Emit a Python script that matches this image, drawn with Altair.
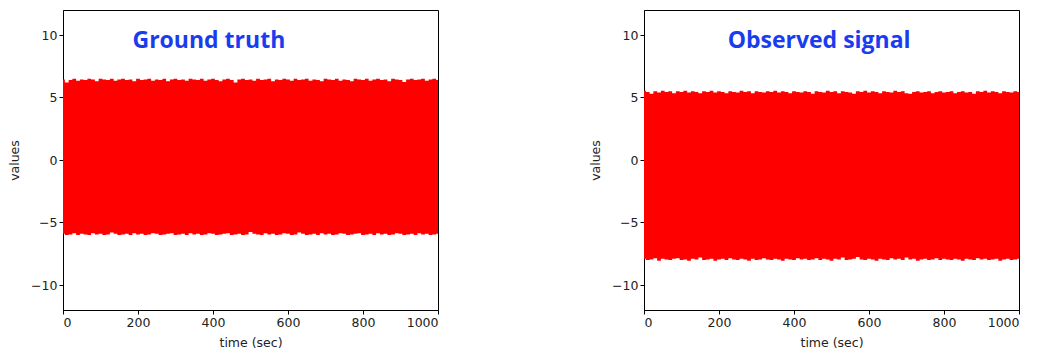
import altair as alt
import pandas as pd

time_sec = list(range(0, 1001, 10))

gt_upper = [6.45, 6.2, 6.4, 6.5, 6.35, 6.45, 6.4, 6.5, 6.45, 6.3, 6.5, 6.45, 6.4, 6.5, 6.35, 6.45, 6.5, 6.4, 6.45, 6.3,
            6.5, 6.4, 6.45, 6.5, 6.35, 6.45, 6.4, 6.5, 6.3, 6.45, 6.5, 6.4, 6.45, 6.35, 6.5, 6.45, 6.4, 6.5, 6.35, 6.45,
            6.5, 6.4, 6.3, 6.45, 6.5, 6.4, 6.2, 6.45, 6.5, 6.4, 6.45, 6.35, 6.5, 6.4, 6.45, 6.5, 6.3, 6.45, 6.4, 6.5,
            6.45, 6.35, 6.5, 6.4, 6.45, 6.5, 6.35, 6.45, 6.4, 6.3, 6.5, 6.45, 6.4, 6.5, 6.35, 6.45, 6.4, 6.3, 6.5, 6.45,
            6.4, 6.5, 6.35, 6.45, 6.5, 6.4, 6.45, 6.3, 6.5, 6.45, 6.4, 6.25, 6.45, 6.5, 6.4, 6.45, 6.5, 6.35, 6.45, 6.5,
            6.4]
gt_lower = [-5.9, -6.0, -5.95, -5.85, -6.0, -5.9, -5.95, -6.0, -5.85, -5.95, -5.9, -6.0, -5.95, -5.8, -5.9, -6.0, -5.95, -5.9, -6.0, -5.85,
            -5.95, -5.9, -6.0, -5.95, -5.85, -5.9, -6.0, -5.95, -5.9, -5.85, -6.0, -5.95, -5.9, -6.0, -5.85, -5.95, -5.9, -6.0, -5.95, -5.85,
            -5.9, -6.0, -5.95, -5.9, -5.85, -6.0, -5.95, -5.9, -6.0, -5.95, -5.75, -5.9, -5.95, -6.0, -5.85, -5.95, -5.9, -6.0, -5.95, -5.85,
            -5.9, -6.0, -5.95, -5.8, -5.9, -6.0, -5.95, -5.9, -6.0, -5.85, -5.95, -5.9, -6.0, -5.95, -5.85, -5.9, -6.0, -5.95, -5.9, -5.85,
            -6.0, -5.95, -5.9, -6.0, -5.85, -5.95, -5.9, -6.0, -5.95, -5.85, -5.9, -6.0, -5.95, -5.9, -6.0, -5.85, -5.95, -5.9, -6.0, -5.95,
            -5.9]

obs_upper = [5.55, 5.45, 5.3, 5.5, 5.4, 5.55, 5.45, 5.5, 5.35, 5.5, 5.45, 5.55, 5.4, 5.5, 5.45, 5.35, 5.5, 5.45, 5.55, 5.4,
             5.5, 5.45, 5.35, 5.5, 5.45, 5.4, 5.55, 5.45, 5.5, 5.35, 5.5, 5.45, 5.4, 5.5, 5.45, 5.55, 5.4, 5.5, 5.45, 5.35,
             5.5, 5.45, 5.4, 5.5, 5.45, 5.3, 5.5, 5.45, 5.4, 5.55, 5.45, 5.5, 5.35, 5.5, 5.45, 5.4, 5.3, 5.5, 5.45, 5.55,
             5.4, 5.5, 5.45, 5.35, 5.5, 5.45, 5.4, 5.55, 5.45, 5.5, 5.35, 5.3, 5.45, 5.5, 5.4, 5.45, 5.5, 5.35, 5.45, 5.5,
             5.4, 5.45, 5.5, 5.35, 5.45, 5.5, 5.4, 5.45, 5.3, 5.5, 5.45, 5.55, 5.4, 5.5, 5.45, 5.35, 5.5, 5.45, 5.4, 5.5,
             5.45]
obs_lower = [-7.9, -8.0, -7.95, -7.85, -8.05, -7.9, -7.95, -8.0, -7.9, -7.85, -8.0, -7.95, -8.05, -7.9, -7.95, -7.8, -8.0, -7.95, -7.9, -8.05,
             -7.95, -7.9, -8.0, -7.85, -7.95, -8.0, -7.9, -7.95, -8.05, -7.9, -8.0, -7.95, -7.85, -7.95, -8.0, -7.9, -7.95, -8.05, -7.9, -7.95,
             -8.0, -7.85, -7.95, -7.9, -8.0, -7.95, -7.85, -8.0, -7.9, -7.95, -8.05, -7.9, -7.95, -7.8, -8.0, -7.95, -7.9, -7.75, -7.95, -8.0,
             -7.9, -7.95, -8.05, -7.9, -7.95, -8.0, -7.85, -7.95, -7.9, -8.0, -7.8, -7.95, -7.9, -8.05, -7.95, -7.9, -8.0, -7.95, -7.85, -8.0,
             -7.9, -7.95, -8.0, -7.9, -7.95, -8.05, -7.9, -7.95, -8.0, -7.85, -7.95, -7.9, -8.0, -7.95, -7.9, -8.05, -7.95, -7.9, -8.0, -7.95,
             -7.9]

panel_titles = ["Ground truth", "Observed signal"]
title_x = [389, 467]
title_y = [9.5, 9.5]

x_ticks = [0, 200, 400, 600, 800, 1000]
y_ticks = [-10, -5, 0, 5, 10]


def panel(upper, lower, title, tx, ty):
    df = pd.DataFrame({"time": time_sec, "upper": upper, "lower": lower})
    x = alt.X("time:Q", title="time (sec)",
              scale=alt.Scale(domain=[0, 1000], nice=False, zero=False),
              axis=alt.Axis(values=x_ticks, grid=False, format="d"))
    band = alt.Chart(df).mark_area(color="#ff0000", opacity=1, interpolate="step").encode(
        x=x,
        y=alt.Y("lower:Q", title="values",
                scale=alt.Scale(domain=[-12, 12], nice=False),
                axis=alt.Axis(values=y_ticks, grid=False)),
        y2="upper:Q",
    )
    tdf = pd.DataFrame({"tx": [tx], "ty": [ty], "label": [title]})
    txt = alt.Chart(tdf).mark_text(font="Open Sans", fontWeight="bold", fontSize=23,
                                   color="#1a3cf0", align="center", baseline="middle").encode(
        x=alt.X("tx:Q", scale=alt.Scale(domain=[0, 1000], nice=False)),
        y=alt.Y("ty:Q", scale=alt.Scale(domain=[-12, 12], nice=False)),
        text="label:N",
    )
    return alt.layer(band, txt).properties(width=375, height=300)


chart = alt.hconcat(
    panel(gt_upper, gt_lower, panel_titles[0], title_x[0], title_y[0]),
    panel(obs_upper, obs_lower, panel_titles[1], title_x[1], title_y[1]),
    spacing=150,
).configure_view(stroke="black", strokeWidth=1).configure_axis(
    domainColor="black", tickColor="black", tickSize=4, labelFont="DejaVu Sans",
    labelFontSize=12.5, labelColor="#222222", titleFont="DejaVu Sans", titleFontSize=12.5,
    titleFontWeight="normal", titleColor="#222222", labelPadding=2,
).configure_axisY(titlePadding=9).configure_axisX(titlePadding=8).properties(
    padding={"left": 0, "top": 1, "right": 0, "bottom": 0}
)

chart.save("out.html", embed_options={"renderer": "svg", "actions": False})
